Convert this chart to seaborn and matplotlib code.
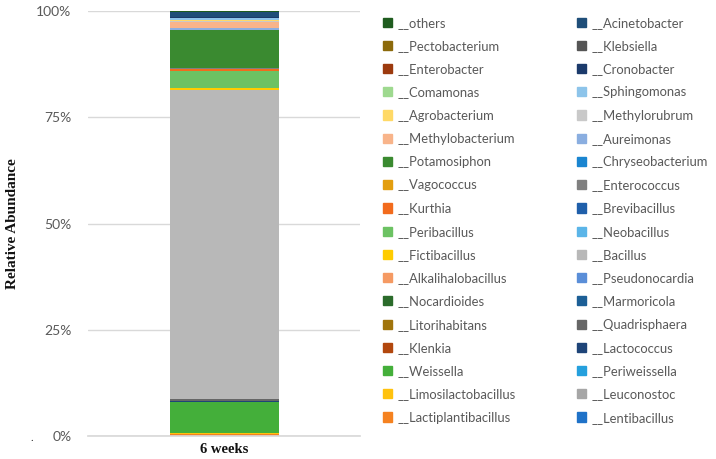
import matplotlib
matplotlib.use("Agg")
import matplotlib.pyplot as plt
import matplotlib.patches as mpatches
import pandas as pd
import seaborn as sns

# genera, in legend order (row by row, top of the stack first)
genera = [
    "others", "Acinetobacter", "Pectobacterium", "Klebsiella",
    "Enterobacter", "Cronobacter", "Comamonas", "Sphingomonas",
    "Agrobacterium", "Methylorubrum", "Methylobacterium", "Aureimonas",
    "Potamosiphon", "Chryseobacterium", "Vagococcus", "Enterococcus",
    "Kurthia", "Brevibacillus", "Peribacillus", "Neobacillus",
    "Fictibacillus", "Bacillus", "Alkalihalobacillus", "Pseudonocardia",
    "Nocardioides", "Marmoricola", "Litorihabitans", "Quadrisphaera",
    "Klenkia", "Lactococcus", "Weissella", "Periweissella",
    "Limosilactobacillus", "Leuconostoc", "Lactiplantibacillus", "Lentibacillus",
]

# relative abundance (%) at 6 weeks
abundance = [
    0.3, 1.1, 0.0, 0.0,
    0.0, 0.3, 0.0, 0.3,
    0.3, 0.3, 1.5, 0.3,
    8.9, 0.0, 0.0, 0.4,
    0.5, 0.0, 4.0, 0.0,
    0.5, 72.7, 0.0, 0.0,
    0.0, 0.0, 0.0, 0.4,
    0.0, 0.3, 7.1, 0.0,
    0.3, 0.0, 0.5, 0.0,
]

colors = [
    "#1F5C1F", "#1F4E79", "#8C6A0B", "#555555",
    "#9C3A0E", "#1B3A6B", "#9ED98F", "#8DC4EA",
    "#FFD966", "#C9C9C9", "#F8B48A", "#8AAEE0",
    "#3A8A30", "#1A85D0", "#E39E0F", "#808080",
    "#F26B1D", "#1F5FAA", "#6CC263", "#5BB5E8",
    "#FFCC00", "#B8B8B8", "#F59A63", "#5A8ED8",
    "#2B6B2B", "#1C5F96", "#A0740C", "#666666",
    "#B2470E", "#1E4478", "#44AF3A", "#25A0DD",
    "#FFC20E", "#A6A6A6", "#F58220", "#1F72C8",
]

sample = "6 weeks"

sns.set_theme(style="white")
plt.rcParams["font.family"] = ["Lato", "DejaVu Sans"]

fig = plt.figure(figsize=(7.16, 4.59), dpi=100)
ax = fig.add_axes([0.123, 0.050, 0.380, 0.926])

# stack from the bottom (last legend entry) upward
df = pd.DataFrame({"genus": genera, "value": abundance, "color": colors})
total = df["value"].sum()
bottom = 0.0
for _, row in df.iloc[::-1].iterrows():
    share = row["value"] / total
    sns.barplot(x=[sample], y=[share], bottom=bottom, color=row["color"],
                width=0.4, linewidth=0, saturation=1, ax=ax)
    bottom += share

ax.set_xlim(-0.5, 0.5)
ax.set_ylim(0, 1)
ax.set_yticks([0, 0.25, 0.5, 0.75, 1.0])
ax.set_yticklabels(["0%", "25%", "50%", "75%", "100%"], color="#595959", fontsize=10)
ax.yaxis.grid(True, color="#D9D9D9", linewidth=1)
ax.set_axisbelow(True)
ax.tick_params(axis="y", length=0, pad=12)
ax.tick_params(axis="x", length=0, pad=5)
for s in ["top", "right", "left"]:
    ax.spines[s].set_visible(False)
ax.spines["bottom"].set_color("#D9D9D9")
ax.set_xticks([0])
ax.set_xticklabels([sample], fontsize=10.5, fontweight="bold",
                   family="Liberation Serif", color="#111111")
ax.set_xlabel("")
ax.set_ylabel("Relative Abundance", fontsize=11, fontweight="bold",
              family="Liberation Serif", color="#111111")
ax.yaxis.set_label_coords(-0.255, 0.5)
fig.text(0.042, 0.04, ".", fontsize=8, color="#333333")

# legend: two columns, filled row by row
handles = [mpatches.Patch(color=c, label="__" + g) for g, c in zip(genera, colors)]
ordered = handles[0::2] + handles[1::2]
leg = fig.legend(handles=ordered, ncol=2, loc="upper left",
                 bbox_to_anchor=(0.528, 0.975), frameon=False,
                 fontsize=9.4, handlelength=0.7, handleheight=0.7,
                 handletextpad=0.4, columnspacing=4.7, labelspacing=0.86,
                 borderaxespad=0)
for t in leg.get_texts():
    t.set_color("#595959")

fig.savefig("out.png", dpi=100)
